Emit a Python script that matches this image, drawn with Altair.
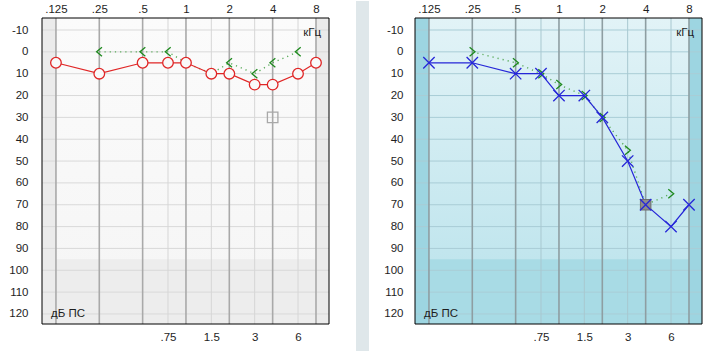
import altair as alt
import pandas as pd

# ---------------- data ----------------
freqs = [0.125, 0.25, 0.5, 0.75, 1, 1.5, 2, 3, 4, 6, 8]
bc_freqs = [0.25, 0.5, 0.75, 1, 1.5, 2, 3, 4, 6]

right_ac = [5, 10, 5, 5, 5, 10, 10, 15, 15, 10, 5]
right_bc = [0, 0, 0, 5, 10, 5, 10, 5, 0]
right_mask_freq = [4]
right_mask_db = [30]

left_ac = [5, 5, 10, 10, 20, 20, 30, 50, 70, 80, 70]
left_bc = [0, 5, 10, 15, 20, 30, 45, 70, 65]
left_mask_freq = [4]
left_mask_db = [70]

major_ticks = [0.125, 0.25, 0.5, 1, 2, 4, 8]
minor_ticks = [0.75, 1.5, 3, 6]
db_ticks = list(range(-10, 121, 10))

unit_khz = "кГц"
unit_db = "дБ ПС"

# ---------------- layout constants ----------------
W, H = 287, 306
X_DOMAIN = [0.1, 9.85]
Y_DOMAIN = [-15.5, 124.6]
LOW_REGION_DB = 95
FONT = "Liberation Sans"
FS = 11.5

xs = alt.Scale(type="log", domain=X_DOMAIN, nice=False)
ys = alt.Scale(domain=Y_DOMAIN, reverse=True, nice=False, zero=False)

LT_SHAPE = "M 0.6 -1 L -0.6 0 L 0.6 1"
GT_SHAPE = "M -0.6 -1 L 0.6 0 L -0.6 1"
X_SHAPE = "M -1 -1 L 1 1 M -1 1 L 1 -1"

FREQ_LABEL = "datum.value < 1 ? substring(toString(datum.value), 1) : toString(datum.value)"

one = pd.DataFrame({"a": [0]})


def panel(ac, bc, mask_f, mask_db, theme):
    ac_df = pd.DataFrame({"f": freqs, "db": ac})
    bc_df = pd.DataFrame({"f": bc_freqs, "db": bc})
    mk_df = pd.DataFrame({"f": mask_f, "db": mask_db})

    layers = []
    # background
    layers.append(
        alt.Chart(one).mark_rect(
            fill=alt.LinearGradient(
                gradient="linear",
                stops=[alt.GradientStop(color=theme["bg_top"], offset=0),
                       alt.GradientStop(color=theme["bg_bot"], offset=1)],
                x1=0, x2=0, y1=0, y2=1)
        ).encode(x=alt.value(0), x2=alt.value(W), y=alt.value(0), y2=alt.value(H))
    )
    # low region
    layers.append(
        alt.Chart(one).mark_rect(color=theme["low"]).encode(
            x=alt.value(0), x2=alt.value(W),
            y=alt.Y(datum=LOW_REGION_DB, scale=ys, axis=None), y2=alt.value(H))
    )
    # side strips
    strips = pd.DataFrame({"f0": [X_DOMAIN[0], major_ticks[-1]],
                           "f1": [major_ticks[0], X_DOMAIN[1]]})
    layers.append(
        alt.Chart(strips).mark_rect(color=theme["strip"]).encode(
            x=alt.X("f0:Q", scale=xs, axis=None), x2="f1:Q",
            y=alt.value(0), y2=alt.value(H))
    )
    # horizontal grid + y axis
    layers.append(
        alt.Chart(pd.DataFrame({"db": db_ticks})).mark_rule(
            color=theme["hgrid"], strokeWidth=1).encode(
            y=alt.Y("db:Q", scale=ys, axis=alt.Axis(
                orient="left", values=db_ticks, ticks=False, domain=False, grid=False,
                title=None, labelPadding=theme["ypad"], labelFont=FONT, labelFontSize=FS,
                labelColor="#1e1e1e", labelExpr="toString(datum.value)")),
            x=alt.value(0), x2=alt.value(W))
    )
    # minor vertical grid + bottom axis
    layers.append(
        alt.Chart(pd.DataFrame({"f": minor_ticks})).mark_rule(
            color=theme["minor"], strokeWidth=1).encode(
            x=alt.X("f:Q", scale=xs, axis=alt.Axis(
                orient="bottom", values=minor_ticks, ticks=False, domain=False,
                grid=False, title=None, labelPadding=7, labelFont=FONT,
                labelFontSize=FS, labelColor="#1e1e1e", labelExpr=FREQ_LABEL)),
            y=alt.value(0), y2=alt.value(H))
    )
    # major vertical grid + top axis
    layers.append(
        alt.Chart(pd.DataFrame({"f": major_ticks})).mark_rule(
            color=theme["major"], strokeWidth=1.6).encode(
            x=alt.X("f:Q", scale=xs, axis=alt.Axis(
                orient="top", values=major_ticks, ticks=False, domain=False,
                grid=False, title=None, labelPadding=4, labelFont=FONT,
                labelFontSize=FS, labelColor="#1e1e1e", labelExpr=FREQ_LABEL)),
            y=alt.value(0), y2=alt.value(H))
    )
    enc = dict(x=alt.X("f:Q", scale=xs, axis=None), y=alt.Y("db:Q", scale=ys, axis=None))
    # bone conduction dotted line
    layers.append(
        alt.Chart(bc_df).mark_line(color=theme["green_line"], strokeWidth=1.4,
                                   strokeDash=[1.2, 4]).encode(**enc)
    )
    # bone conduction markers
    layers.append(
        alt.Chart(bc_df).mark_point(shape=theme["bc_shape"], filled=False, size=81,
                                    color="#1f8a1f", strokeWidth=1.3, opacity=1).encode(**enc)
    )
    # air conduction line
    layers.append(
        alt.Chart(ac_df).mark_line(color=theme["ac"], strokeWidth=1.2).encode(**enc)
    )
    if theme["ear"] == "right":
        layers.append(
            alt.Chart(ac_df).mark_point(shape="circle", filled=True, size=113,
                                        color=theme["mask_fill"], opacity=1).encode(**enc)
        )
        layers.append(
            alt.Chart(ac_df).mark_point(shape="circle", filled=False, size=113,
                                        color=theme["ac"], strokeWidth=1.3, opacity=1).encode(**enc)
        )
        layers.append(
            alt.Chart(mk_df).mark_point(shape="square", filled=False, size=110,
                                        color="#a8a8a8", strokeWidth=1.3, opacity=1).encode(**enc)
        )
    else:
        layers.append(
            alt.Chart(mk_df).mark_point(shape="square", filled=True, size=110,
                                        fill="#8c8c8c", stroke="#6e6e6e", strokeWidth=1,
                                        opacity=1).encode(**enc)
        )
        layers.append(
            alt.Chart(ac_df).mark_point(shape=X_SHAPE, filled=False, size=130,
                                        color=theme["ac"], strokeWidth=1.3, opacity=1).encode(**enc)
        )
    # frame
    layers.append(
        alt.Chart(one).mark_rect(fillOpacity=0, stroke="black", strokeWidth=1).encode(
            x=alt.value(0), x2=alt.value(W), y=alt.value(0), y2=alt.value(H))
    )
    # texts
    layers.append(
        alt.Chart(pd.DataFrame({"t": [unit_khz]})).mark_text(
            align="right", baseline="middle", font=FONT, fontSize=FS, color="#1e1e1e").encode(
            text="t:N", x=alt.value(W - 8), y=alt.value(15))
    )
    layers.append(
        alt.Chart(pd.DataFrame({"t": [unit_db]})).mark_text(
            align="left", baseline="middle", font=FONT, fontSize=FS, color="#1e1e1e").encode(
            text="t:N", x=alt.value(9), y=alt.value(H - 10))
    )
    return layers


right_theme = dict(ear="right", bg_top="#fbfbfb", bg_bot="#f5f5f5", low="#ededed",
                   strip="#ebebeb", hgrid="#d9d9d9", minor="#d6d6d6", major="#a9a9a9",
                   green_line="#5aab5a", bc_shape=LT_SHAPE, ac="#e02626",
                   mask_fill="#f9f9f9", ypad=14)
left_theme = dict(ear="left", bg_top="#e2f3f7", bg_bot="#b8e2eb", low="#a8dbe5",
                  strip="#9dd5e1", hgrid="#a9cdd6", minor="#a8c8d0", major="#8e9ea2",
                  green_line="#5aab5a", bc_shape=GT_SHAPE, ac="#2626d8",
                  mask_fill="#d0edf3", ypad=12)

left_layers = panel(right_ac, right_bc, right_mask_freq, right_mask_db, right_theme)
# white anchor so the page origin stays fixed
left_layers.append(
    alt.Chart(one).mark_rule(color="white").encode(
        x=alt.value(-41), y=alt.value(-17), y2=alt.value(-16))
)
right_layers = panel(left_ac, left_bc, left_mask_freq, left_mask_db, left_theme)
# separator stripe between panels
right_layers.insert(0,
    alt.Chart(one).mark_rect(color="#dfe7ea").encode(
        x=alt.value(-59), x2=alt.value(-46), y=alt.value(-17), y2=alt.value(334))
)

left_chart = alt.layer(*left_layers).resolve_axis(
    x="independent", y="independent").properties(width=W, height=H)
right_chart = alt.layer(*right_layers).resolve_axis(
    x="independent", y="independent").properties(width=W, height=H)

chart = alt.hconcat(left_chart, right_chart, spacing=86, bounds="flush").properties(
    padding=0, background="white"
).configure_view(stroke="transparent")

chart.save("out.html", embed_options={"renderer": "svg", "actions": False})
